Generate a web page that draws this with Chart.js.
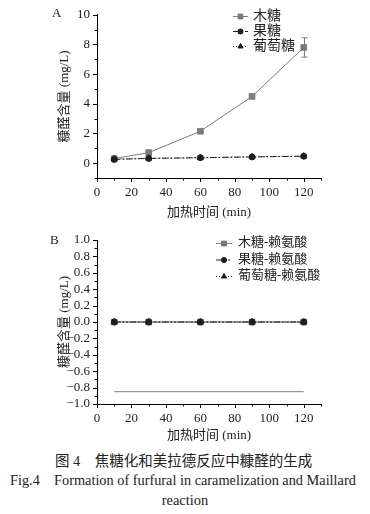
<!DOCTYPE html>
<html><head><meta charset="utf-8">
<script src="https://cdn.jsdelivr.net/npm/chart.js@4/dist/chart.umd.min.js"></script>
<style>
body{margin:0;background:#fff;width:370px;height:514px;position:relative;overflow:hidden;font-family:"Liberation Serif","Noto Sans CJK SC",serif;color:#222;}
canvas{position:absolute;left:0;}
.cap{position:absolute;white-space:nowrap;color:#222;}
</style></head><body>
<canvas id="ca" width="370" height="222" style="top:0"></canvas>
<canvas id="cb" width="370" height="223" style="top:222px"></canvas>
<div class="cap" style="left:55px;top:449px;font-size:14.5px;">图 4&nbsp;&nbsp;&nbsp;&nbsp;焦糖化和美拉德反应中糠醛的生成</div>
<div class="cap" style="left:10px;top:472px;font-size:14.3px;">Fig.4&nbsp;&nbsp;&nbsp;&nbsp;Formation of furfural in caramelization and Maillard</div>
<div class="cap" style="left:0;width:370px;text-align:center;top:492px;font-size:14.5px;">reaction</div>
<script>
// ---------- data ----------
const times = [10, 30, 60, 90, 120];
const seriesNamesA = ['木糖', '果糖', '葡萄糖'];
const xyloseA = [0.31, 0.71, 2.15, 4.5, 7.8];
const xyloseErrA = [0, 0, 0, 0, 0.65];
const fructoseA = [0.25, 0.32, 0.37, 0.42, 0.47];
const glucoseA = [0.28, 0.33, 0.36, 0.43, 0.47];

const seriesNamesB = ['木糖-赖氨酸', '果糖-赖氨酸', '葡萄糖-赖氨酸'];
const xyloseLysB = [0, 0, 0, 0, 0];
const fructoseLysB = [0, 0, 0, 0, 0];
const glucoseLysB = [0, 0, 0, 0, 0];
const lowerLineB = [-0.85, -0.85];
const lowerLineTimesB = [10, 120];

const xTitle = '加热时间 (min)';
const yTitle = '糠醛含量 (mg/L)';
const panelA = 'A', panelB = 'B';

// ---------- helpers ----------
const FONT = "'Liberation Serif','Noto Sans CJK SC',serif";
const pts = (xs, ys) => xs.map((x, i) => ({x, y: ys[i]}));
const GRAY = '#7c7c7c', BLACK = '#1e1e1e';

function styleSet(name, data, kind, extra) {
  const base = {
    label: name, data, borderWidth: 1, tension: 0, fill: false, pointBorderWidth: 1
  };
  if (kind === 'x') Object.assign(base, {borderColor: GRAY, backgroundColor: GRAY, pointStyle: 'rect', pointRadius: 4});
  if (kind === 'f') Object.assign(base, {borderColor: BLACK, backgroundColor: BLACK, pointStyle: 'circle', pointRadius: 3, borderDash: [6, 2, 2, 2]});
  if (kind === 'g') Object.assign(base, {borderColor: BLACK, backgroundColor: BLACK, pointStyle: 'triangle', pointRadius: 3.5, borderDash: [1, 2]});
  return Object.assign(base, extra || {});
}

const tickMarks = {
  id: 'tickMarks',
  afterDraw(chart) {
    const ctx = chart.ctx, ca = chart.chartArea;
    ctx.save();
    ctx.strokeStyle = '#000'; ctx.lineWidth = 1;
    const xs = chart.scales.x, ys = chart.scales.y;
    xs.ticks.forEach((t, i) => {
      const px = Math.round(xs.getPixelForTick(i)) + 0.5;
      const major = t.label !== '';
      ctx.beginPath(); ctx.moveTo(px, ca.bottom); ctx.lineTo(px, ca.bottom + (major ? 4 : 2.5)); ctx.stroke();
    });
    ys.ticks.forEach((t, i) => {
      const py = Math.round(ys.getPixelForTick(i)) + 0.5;
      const major = t.label !== '';
      ctx.beginPath(); ctx.moveTo(ca.left, py); ctx.lineTo(ca.left - (major ? 4 : 2.5), py); ctx.stroke();
    });
    ctx.restore();
  }
};

const errorBars = {
  id: 'errorBars',
  afterDatasetsDraw(chart, args, opts) {
    if (!opts.errors) return;
    const ctx = chart.ctx, xs = chart.scales.x, ys = chart.scales.y;
    ctx.save(); ctx.strokeStyle = GRAY; ctx.lineWidth = 1;
    opts.errors.forEach((e, i) => {
      if (!e) return;
      const d = chart.data.datasets[opts.index].data[i];
      const px = Math.round(xs.getPixelForValue(d.x)) + 0.5;
      const y1 = ys.getPixelForValue(d.y + e), y2 = ys.getPixelForValue(d.y - e);
      ctx.beginPath();
      ctx.moveTo(px, y1); ctx.lineTo(px, y2);
      ctx.moveTo(px - 3, y1); ctx.lineTo(px + 3, y1);
      ctx.moveTo(px - 3, y2); ctx.lineTo(px + 3, y2);
      ctx.stroke();
    });
    ctx.restore();
  }
};

const customLegend = {
  id: 'customLegend',
  afterDraw(chart, args, opts) {
    const ctx = chart.ctx;
    ctx.save();
    ctx.font = opts.size + 'px ' + FONT;
    ctx.textBaseline = 'middle';
    ctx.fillStyle = '#222';
    for (let i = 0; i < opts.count; i++) {
      const ds = chart.data.datasets[i];
      const y = opts.y + i * opts.dy;
      ctx.strokeStyle = ds.borderColor; ctx.lineWidth = 1;
      ctx.setLineDash(ds.borderDash || []);
      ctx.beginPath(); ctx.moveTo(opts.x0, y + 0.5); ctx.lineTo(opts.x1, y + 0.5); ctx.stroke();
      ctx.setLineDash([]);
      Chart.helpers.drawPoint(ctx, {pointStyle: ds.pointStyle, radius: ds.pointRadius * 0.85, borderWidth: 1}, (opts.x0 + opts.x1) / 2, y + 0.5);
      ctx.fillStyle = ds.backgroundColor;
      ctx.fill();
      ctx.fillStyle = '#222';
      ctx.fillText(ds.label, opts.tx, y);
    }
    ctx.font = '13px ' + FONT;
    ctx.fillStyle = '#222';
    ctx.fillText(opts.panel, opts.px, opts.py);
    ctx.restore();
  }
};

function axes(ymin, ymax, step, yLabel) {
  return {
    x: {
      type: 'linear', min: 0, max: 130,
      afterFit: s => { s.height = 44; },
      afterBuildTicks: s => { s.ticks = []; for (let v = 0; v <= 130; v += 10) s.ticks.push({value: v}); },
      ticks: {
        stepSize: 10, autoSkip: false, maxRotation: 0, padding: 7, color: '#222',
        font: {family: FONT, size: 13},
        callback: v => (v % 20 === 0 && v <= 120) ? String(v) : ''
      },
      grid: {display: true, drawOnChartArea: false, drawTicks: false},
      border: {display: true, color: '#000', width: 1},
      title: {display: true, text: xTitle, color: '#222', font: {family: FONT, size: 13}, padding: {top: 0, bottom: 2}}
    },
    y: {
      type: 'linear', min: ymin, max: ymax,
      afterFit: s => { s.width = 97; },
      afterBuildTicks: s => { s.ticks = []; const n = Math.round((ymax - ymin) / step); for (let k = 0; k <= n; k++) s.ticks.push({value: +(ymin + k * step).toFixed(4)}); },
      ticks: {
        autoSkip: false, padding: 7, color: '#222',
        font: {family: FONT, size: 13},
        callback: yLabel
      },
      grid: {display: true, drawOnChartArea: false, drawTicks: false},
      border: {display: true, color: '#000', width: 1},
      title: {display: true, text: yTitle, color: '#222', font: {family: FONT, size: 13}, padding: {top: 57, bottom: 0}}
    }
  };
}

Chart.defaults.font.family = FONT;

new Chart(document.getElementById('ca'), {
  type: 'line',
  data: {
    datasets: [
      styleSet(seriesNamesA[0], pts(times, xyloseA), 'x', {order: 2}),
      styleSet(seriesNamesA[1], pts(times, fructoseA), 'f', {order: 0}),
      styleSet(seriesNamesA[2], pts(times, glucoseA), 'g', {order: 1})
    ]
  },
  options: {
    responsive: false, animation: false, devicePixelRatio: 1,
    layout: {padding: {left: 0, right: 49, top: 13, bottom: 0}},
    plugins: {
      legend: {display: false}, tooltip: {enabled: false},
      errorBars: {index: 0, errors: xyloseErrA},
      customLegend: {count: 3, size: 14, x0: 233, x1: 248, tx: 253, y: 16, dy: 15, panel: panelA, px: 52, py: 14}
    },
    scales: axes(-1, 10, 1, v => (Math.round(v) % 2 === 0 && v >= 0) ? String(Math.round(v)) : '')
  },
  plugins: [tickMarks, errorBars, customLegend]
});

new Chart(document.getElementById('cb'), {
  type: 'line',
  data: {
    datasets: [
      styleSet(seriesNamesB[0], pts(times, xyloseLysB), 'x', {order: 2}),
      styleSet(seriesNamesB[1], pts(times, fructoseLysB), 'f', {order: 0, borderDash: [6, 2, 2, 2, 2, 2]}),
      styleSet(seriesNamesB[2], pts(times, glucoseLysB), 'g', {order: 1}),
      {label: '', data: pts(lowerLineTimesB, lowerLineB), borderColor: GRAY, borderWidth: 1, pointRadius: 0, order: 3}
    ]
  },
  options: {
    responsive: false, animation: false, devicePixelRatio: 1,
    layout: {padding: {left: 0, right: 49, top: 18, bottom: 0}},
    plugins: {
      legend: {display: false}, tooltip: {enabled: false},
      customLegend: {count: 3, size: 13, x0: 216, x1: 232, tx: 238, y: 21, dy: 16.5, panel: panelB, px: 50, py: 19}
    },
    scales: (() => {
      const a = axes(-1, 1, 0.1, v => {
        const k = Math.round(v * 10);
        if (k % 2 !== 0) return '';
        const s = Math.abs(k / 10).toFixed(1);
        return (k < 0 ? '\u2212' : '') + s;
      });
      a.x.afterFit = s => { s.height = 41; };
      return a;
    })()
  },
  plugins: [tickMarks, errorBars, customLegend]
});
</script>
</body></html>
